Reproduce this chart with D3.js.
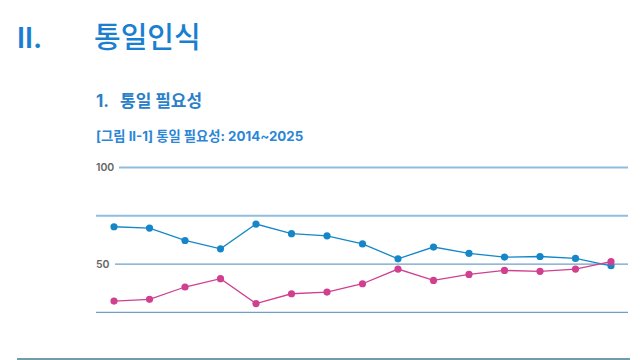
<!DOCTYPE html>
<html><head><meta charset="utf-8">
<script src="https://cdn.jsdelivr.net/npm/d3@7"></script>
<style>html,body{margin:0;padding:0;background:#fff;}svg{display:block;}</style>
</head><body>
<script>
const categories = ["1","2","3","4","5","6","7","8","9","10","11","12","13","14","15"];
const seriesBlue = [69.3,68.6,62.2,57.9,70.7,65.7,64.6,60.4,52.7,58.8,55.5,53.6,53.9,52.9,49.1];
const seriesPink = [30.8,31.7,38.1,42.4,29.5,34.6,35.5,39.8,47.4,41.5,44.6,46.7,46.2,47.4,51.2];
const gridValues = [100,75,50,25];
const tickLabels = {100:"100",50:"50"};

const W=640,H=360;
const svg=d3.select("body").append("svg").attr("width",W).attr("height",H);
const font="Inter,'Noto Sans CJK KR','Noto Sans',sans-serif";
const kfont="'Noto Sans CJK KR','Noto Sans',sans-serif";

svg.append("text").attr("x",17).attr("y",48).attr("font-family",font).attr("font-size",29).attr("font-weight",600).attr("fill","#1b7fd1").text("II.");
svg.append("text").attr("x",94).attr("y",48).attr("font-family",kfont).attr("font-size",29).attr("font-weight",500).attr("fill","#1b7fd1").text("통일인식");
svg.append("text").attr("x",96).attr("y",107).attr("font-family",font).attr("font-size",17).attr("font-weight",700).attr("fill","#2a80c9").text("1.");
svg.append("text").attr("x",120).attr("y",107).attr("font-family",kfont).attr("font-size",17).attr("font-weight",700).attr("fill","#2a80c9").text("통일 필요성");
svg.append("text").attr("x",96).attr("y",141).attr("font-family",font).attr("font-size",13.3).attr("font-weight",700).attr("fill","#2a86d6").text("[그림 II-1] 통일 필요성: 2014~2025");

const x=d3.scalePoint().domain(categories).range([114,611]);
const y=d3.scaleLinear().domain([25,100]).range([312.3,167.5]);

const grid=svg.append("g");
gridValues.forEach(v=>{
  const lab=tickLabels[v];
  const x0 = lab ? (v===100?119:115) : 96;
  grid.append("line").attr("x1",x0).attr("x2",628).attr("y1",y(v)).attr("y2",y(v))
    .attr("stroke", (v===100||v===75)?"#8fbde0":"#6f9fc7").attr("stroke-width",(v===100||v===75)?1.8:1.2);
  if(lab){
    grid.append("text").attr("x",96).attr("y",y(v)).attr("dy","0.36em").attr("font-family",font)
      .attr("font-size",10.5).attr("font-weight",600).attr("fill","#666").text(lab);
  }
});

svg.append("line").attr("x1",17).attr("x2",630).attr("y1",359).attr("y2",359).attr("stroke","#3f7c8e").attr("stroke-width",1.5);

const line=d3.line().x((d,i)=>x(categories[i])).y(d=>y(d));
[[seriesBlue,"#1587c9"],[seriesPink,"#d13f8f"]].forEach(([s,c])=>{
  svg.append("path").datum(s).attr("d",line).attr("fill","none").attr("stroke",c).attr("stroke-width",1.3);
  svg.append("g").selectAll("circle").data(s).join("circle")
    .attr("cx",(d,i)=>x(categories[i])).attr("cy",d=>y(d)).attr("r",3.6).attr("fill",c);
});
</script>
</body></html>
